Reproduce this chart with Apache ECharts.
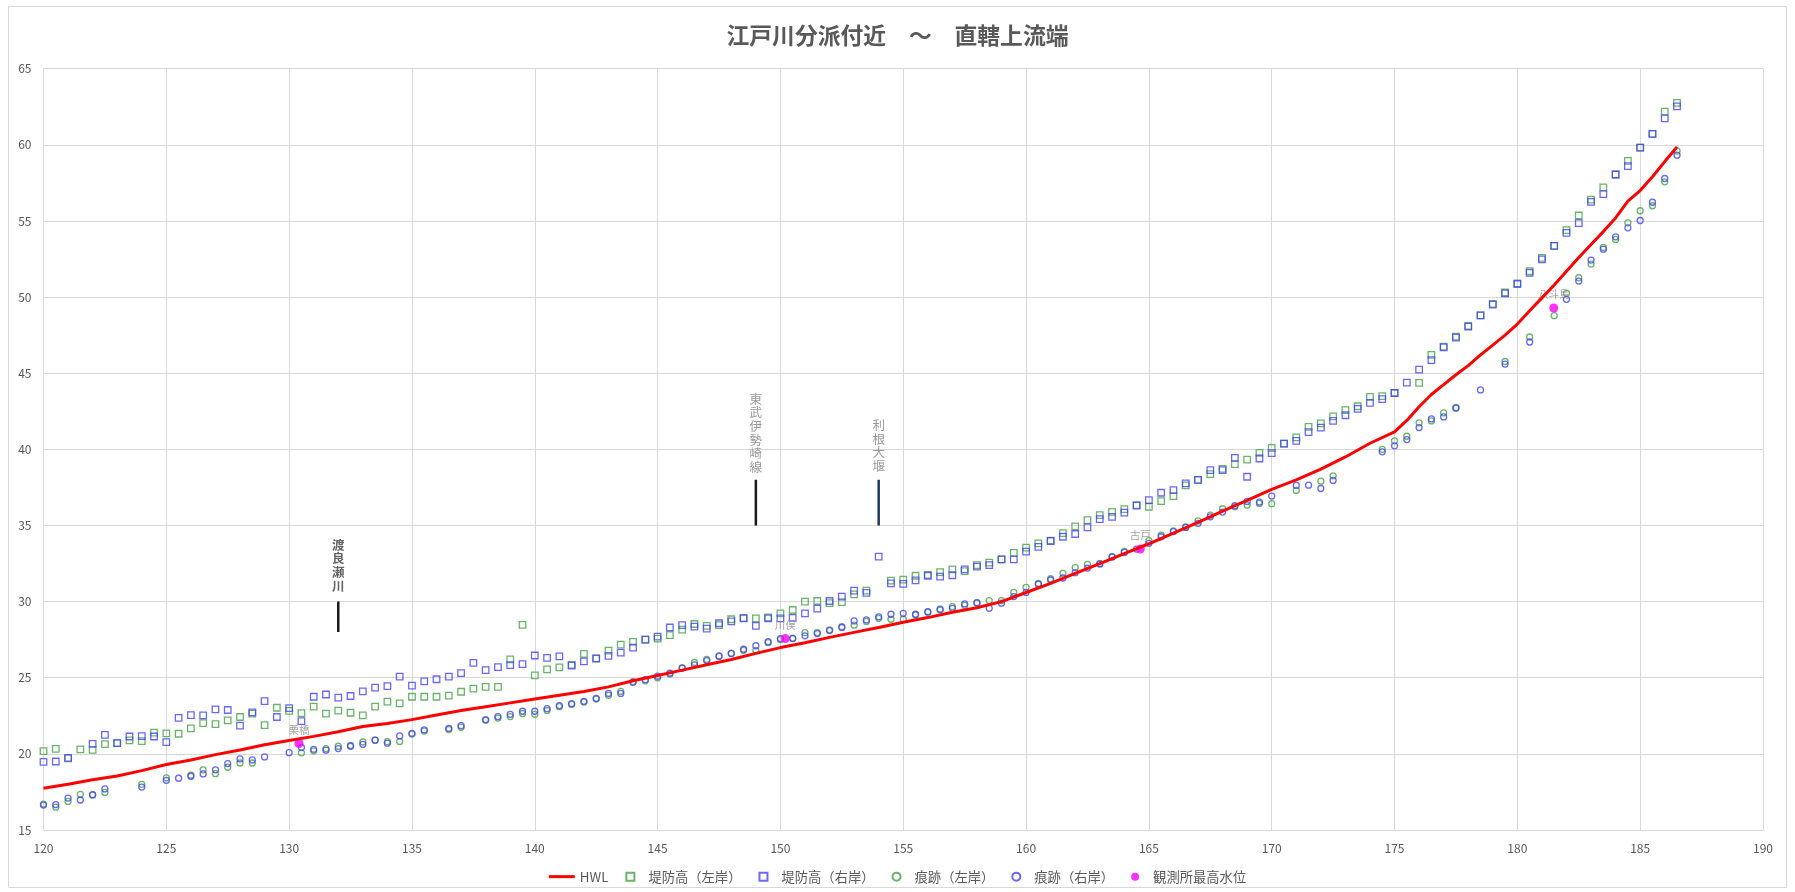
<!DOCTYPE html>
<html>
<head>
    <meta charset="utf-8"/>
    <title>江戸川分派付近 ～ 直轄上流端</title>
    <style>
        html, body { margin: 0; padding: 0; background: #fff; }
        #main { width: 1795px; height: 892px; }
    </style>
</head>
<body>
<div id="main"></div>
<script src="https://cdn.jsdelivr.net/npm/echarts@6/dist/echarts.min.js"></script>
<script>
    // 距離標 (km)  0.5km毎
    var km = [
        120, 120.5, 121, 121.5, 122, 122.5, 123, 123.5, 124, 124.5,
        125, 125.5, 126, 126.5, 127, 127.5, 128, 128.5, 129, 129.5,
        130, 130.5, 131, 131.5, 132, 132.5, 133, 133.5, 134, 134.5,
        135, 135.5, 136, 136.5, 137, 137.5, 138, 138.5, 139, 139.5,
        140, 140.5, 141, 141.5, 142, 142.5, 143, 143.5, 144, 144.5,
        145, 145.5, 146, 146.5, 147, 147.5, 148, 148.5, 149, 149.5,
        150, 150.5, 151, 151.5, 152, 152.5, 153, 153.5, 154, 154.5,
        155, 155.5, 156, 156.5, 157, 157.5, 158, 158.5, 159, 159.5,
        160, 160.5, 161, 161.5, 162, 162.5, 163, 163.5, 164, 164.5,
        165, 165.5, 166, 166.5, 167, 167.5, 168, 168.5, 169, 169.5,
        170, 170.5, 171, 171.5, 172, 172.5, 173, 173.5, 174, 174.5,
        175, 175.5, 176, 176.5, 177, 177.5, 178, 178.5, 179, 179.5,
        180, 180.5, 181, 181.5, 182, 182.5, 183, 183.5, 184, 184.5,
        185, 185.5, 186, 186.5
    ];

    // 堤防高(左岸)
    var dikeLeft = [
        20.18, 20.33, 19.7, 20.29, 20.26, 20.64, 20.7, 20.88, 20.84, 21.4,
        21.34, 21.32, 21.67, 22.02, 21.96, 22.2, 22.42, 22.64, 21.89, 23.03,
        22.82, 22.67, 23.1, 22.64, 22.84, 22.7, 22.53, 23.1, 23.43, 23.32,
        23.75, 23.75, 23.75, 23.82, 24.08, 24.28, 24.4, 24.4, 26.2, 28.47,
        25.15, 25.55, 25.68, 25.85, 26.57, 26.25, 26.78, 27.18, 27.36, 27.5,
        27.57, 27.8, 28.16, 28.53, 28.4, 28.45, 28.84, 28.93, 28.9, 28.97,
        29.23, 29.45, 30.0, 30.04, 29.9, 29.96, 30.48, 30.72, null, 31.38,
        31.44, 31.7, 31.75, 31.93, 32.12, 32.0, 32.4, 32.56, 32.78, 33.2,
        33.54, 33.83, 34.0, 34.5, 34.94, 35.35, 35.68, 35.9, 36.08, 36.34,
        36.23, 36.6, 36.93, 37.63, 38.0, 38.37, 38.72, 39.03, 39.33, 39.77,
        40.1, 40.38, 40.78, 41.47, 41.7, 42.17, 42.57, 42.83, 43.44, 43.5,
        43.7, null, 44.37, 46.2, 46.75, 47.4, 48.1, 48.8, 49.55, 50.3,
        50.9, 51.7, 52.58, 53.37, 54.4, 55.36, 56.4, 57.2, 58.05, 58.95,
        59.82, 60.72, 62.18, 62.75
    ];

    // 堤防高(右岸)
    var dikeRight = [
        19.47, 19.5, 19.74, null, 20.66, 21.25, 20.7, 21.14, 21.16, 21.14,
        20.77, 22.37, 22.55, 22.53, 22.92, 22.88, 21.85, 22.73, 23.47, 22.42,
        23.0, 22.15, 23.75, 23.9, 23.7, 23.8, 24.1, 24.35, 24.45, 25.07,
        24.48, 24.76, 24.9, 25.07, 25.3, 25.98, 25.5, 25.7, 25.83, 25.9,
        26.46, 26.3, 26.4, 25.8, 26.07, 26.27, 26.43, 26.65, 26.98, 27.5,
        27.7, 28.3, 28.45, 28.36, 28.23, 28.58, 28.7, 28.9, 28.4, 28.9,
        28.9, 28.93, 29.23, 29.54, 30.04, 30.33, 30.72, 30.57, 32.95, 31.2,
        31.16, 31.4, 31.7, 31.64, 31.73, 32.12, 32.3, 32.4, 32.78, 32.78,
        33.28, 33.6, 33.98, 34.26, 34.44, 34.87, 35.42, 35.57, 35.84, 36.3,
        36.67, 37.15, 37.32, 37.76, 38.0, 38.63, 38.63, 39.44, 38.2, 39.4,
        39.75, 40.38, 40.56, 41.13, 41.43, 41.87, 42.24, 42.66, 43.05, 43.3,
        43.7, 44.38, 45.24, 45.86, 46.7, 47.34, 48.06, 48.8, 49.5, 50.25,
        50.86, 51.6, 52.48, 53.37, 54.22, 54.86, 56.26, 56.76, 58.05, 58.6,
        59.82, 60.72, 61.74, 62.53
    ];

    // 痕跡(左岸)
    var traceLeft = [
        16.7, 16.5, 16.88, 17.34, 17.3, 17.47, null, null, 18.0, null,
        18.42, null, 18.6, 18.95, 18.7, 19.12, 19.4, 19.4, null, null,
        null, 20.07, 20.2, 20.35, 20.5, 20.55, 20.78, 20.9, 20.8, 20.82,
        21.3, 21.5, null, 21.6, 21.75, null, 22.2, 22.35, 22.45, 22.65,
        22.6, 22.85, 23.1, 23.25, 23.4, 23.6, 23.85, 24.1, 24.75, 24.8,
        25.0, 25.25, 25.67, 26.0, 26.2, 26.4, 26.6, 26.8, 26.8, 27.3,
        27.5, 27.6, 27.96, 27.96, 28.15, 28.35, 28.45, 28.7, 28.9, 28.84,
        28.84, 29.12, 29.3, 29.45, 29.67, 29.75, 29.9, 30.07, 30.07, 30.6,
        30.94, 31.2, 31.5, 31.86, 32.23, 32.45, 32.5, 32.95, 33.3, null,
        34.0, 34.37, 34.65, 34.9, 35.3, 35.68, 36.1, 36.23, 36.34, 36.45,
        36.43, null, 37.3, null, 37.91, 38.26, null, null, null, 40.0,
        40.56, 40.86, 41.74, 41.87, 42.4, 42.7, null, null, null, 45.77,
        null, 47.38, null, 48.78, 50.25, 51.27, 52.17, 53.26, 53.79, 54.88,
        55.67, 56.0, 57.57, 59.6
    ];

    // 痕跡(右岸)
    var traceRight = [
        16.64, 16.66, 17.1, 16.97, 17.32, 17.7, null, null, 17.82, null,
        18.26, 18.4, 18.53, 18.68, 18.95, 19.36, 19.67, 19.6, 19.8, null,
        20.08, 20.42, 20.3, 20.24, 20.35, 20.5, 20.63, 20.9, 20.7, 21.18,
        21.35, 21.57, null, 21.68, 21.85, null, 22.25, 22.45, 22.6, 22.8,
        22.8, 22.97, 23.17, 23.3, 23.45, 23.65, 23.97, 23.97, 24.7, 24.87,
        25.1, 25.3, 25.62, 25.85, 26.13, 26.43, 26.6, 26.87, 27.1, 27.37,
        27.57, 27.57, 27.75, 27.9, 28.1, 28.3, 28.73, 28.8, 29.0, 29.17,
        29.23, 29.17, 29.34, 29.5, 29.56, 29.85, 29.93, 29.56, 29.9, 30.33,
        30.6, 31.14, 31.42, 31.55, 31.9, 32.2, 32.47, 32.93, 33.23, 33.45,
        33.83, 34.26, 34.6, 34.87, 35.14, 35.57, 35.88, 36.3, 36.58, 36.54,
        36.93, null, 37.63, 37.65, 37.43, 37.96, null, null, null, 39.84,
        40.23, 40.64, 41.43, 42.0, 42.13, 42.74, null, 43.9, null, 45.6,
        null, 47.05, null, null, 49.85, 51.05, 52.43, 53.15, 53.96, 54.55,
        55.03, 56.23, 57.79, 59.32
    ];

    // HWL
    var hwlKm = [
        120, 121, 122, 123, 124, 125, 126, 127, 128, 129,
        130, 131, 132, 133, 134, 135, 136, 137, 138, 139,
        140, 141, 142, 143, 144, 145, 146, 147, 148, 149,
        150, 151, 152, 153, 154, 155, 156, 157, 158, 159,
        160, 161, 162, 163, 164, 165, 166, 167, 168, 169,
        170, 171, 172, 173, 174, 175, 175.5, 176, 176.5, 177,
        177.5, 178, 178.5, 179, 179.5, 180, 180.5, 181, 181.5, 182,
        182.5, 183, 183.5, 184, 184.5, 185, 185.5, 186, 186.5
    ];
    var hwlLevel = [
        17.74, 18.0, 18.3, 18.55, 18.9, 19.3, 19.6, 19.95, 20.25, 20.6,
        20.88, 21.15, 21.45, 21.8, 22.0, 22.25, 22.55, 22.85, 23.1, 23.35,
        23.6, 23.85, 24.1, 24.4, 24.8, 25.15, 25.5, 25.85, 26.2, 26.6,
        26.98, 27.3, 27.65, 27.98, 28.3, 28.64, 28.95, 29.3, 29.6, 30.0,
        30.6, 31.2, 31.85, 32.5, 33.15, 33.8, 34.5, 35.2, 35.95, 36.65,
        37.37, 38.0, 38.7, 39.5, 40.4, 41.15, 41.9, 42.8, 43.6, 44.25,
        44.9, 45.5, 46.2, 46.85, 47.5, 48.23, 49.1, 49.95, 50.8, 51.7,
        52.6, 53.45, 54.3, 55.2, 56.3, 57.0, 57.9, 58.9, 59.86
    ];

    // 観測所最高水位
    var stationName = ['栗橋', '川俣', '古戸', '八斗島'];
    var stationKm = [130.4, 150.2, 164.65, 181.48];
    var stationLevel = [20.68, 27.57, 33.45, 49.28];

    // 目印 (名称, km, 下端, 上端)
    var markName = ['渡良瀬川', '東武伊勢崎線', '利根大堰'];
    var markKm = [132, 149, 154];
    var markLow = [28, 35, 35];
    var markHigh = [30, 38, 38];

    var xTicks = [120, 190, 5];
    var yTicks = [15, 65, 5];

    function pairs(xs, ys) {
        var out = [];
        for (var i = 0; i < xs.length; i++) {
            out.push([xs[i], ys[i]]);
        }
        return out;
    }

    var font = '"Noto Sans CJK JP", "Noto Sans", sans-serif';
    var green = '#45a045';
    var blue = '#4444f4';

    // 凡例用アイコン
    var iconLine = 'path://M0,0 L26,0 L26,3 L0,3 Z';
    var iconSquare = 'path://M0,0 L10,0 L10,10 L0,10 Z';
    var iconCircle = 'path://M5,0 A5,5 0 1,1 4.99,0 Z';

    function scatter(name, sym, size, color, data) {
        return {
            name: name,
            type: 'scatter',
            symbol: sym,
            symbolSize: size,
            itemStyle: { color: 'rgba(0,0,0,0)', borderColor: color, borderWidth: 1.3 },
            data: pairs(km, data),
            silent: true
        };
    }

    var markStyle = [
        { lineColor: '#1a1a1a', textColor: '#3f3f3f', bold: 'bold', dist: 9 },
        { lineColor: '#1a1a1a', textColor: '#7f7f7f', bold: 'normal', dist: 6 },
        { lineColor: '#203864', textColor: '#7f7f7f', bold: 'normal', dist: 7 }
    ];

    var series = [
        {
            name: 'HWL',
            type: 'line',
            symbol: 'none',
            lineStyle: { color: '#ff0000', width: 3 },
            itemStyle: { color: '#ff0000' },
            data: pairs(hwlKm, hwlLevel),
            silent: true
        },
        scatter('堤防高（左岸）', 'rect', 6.5, green, dikeLeft),
        scatter('堤防高（右岸）', 'rect', 6.5, blue, dikeRight),
        scatter('痕跡（左岸）', 'circle', 6, green, traceLeft),
        scatter('痕跡（右岸）', 'circle', 6, blue, traceRight),
        {
            name: '観測所最高水位',
            type: 'scatter',
            symbol: 'circle',
            symbolSize: 9,
            itemStyle: { color: '#ff00ff' },
            data: stationKm.map(function (k, i) {
                return {
                    value: [k, stationLevel[i]],
                    label: {
                        show: true,
                        position: 'top',
                        distance: 4,
                        formatter: stationName[i],
                        color: '#8c8c8c',
                        fontSize: 10.5,
                        fontFamily: font
                    }
                };
            }),
            silent: true
        }
    ];

    for (let i = 0; i < markName.length; i++) {
        var st = markStyle[i];
        series.push({
            name: markName[i],
            type: 'line',
            symbol: 'none',
            lineStyle: { color: st.lineColor, width: 2.5 },
            data: [[markKm[i], markLow[i]], [markKm[i], markHigh[i]]],
            silent: true
        });
        // 縦書きラベル
        series.push({
            name: markName[i] + '_label',
            type: 'scatter',
            symbolSize: 0,
            data: [[markKm[i], markHigh[i]]],
            label: {
                show: true,
                position: 'top',
                distance: st.dist,
                formatter: markName[i].split('').join('\n'),
                color: st.textColor,
                fontWeight: st.bold,
                fontSize: 12.5,
                lineHeight: 13.6,
                fontFamily: font
            },
            silent: true
        });
    }

    var option = {
        animation: false,
        backgroundColor: '#ffffff',
        textStyle: { fontFamily: font },
        title: {
            text: '江戸川分派付近　～　直轄上流端',
            left: 'center',
            top: 19,
            textStyle: { fontSize: 22.8, fontWeight: 'bold', color: '#595959', fontFamily: font }
        },
        graphic: [{
            type: 'rect',
            shape: { x: 8.5, y: 6.5, width: 1778, height: 881 },
            style: { fill: null, stroke: '#d9d9d9', lineWidth: 1 },
            silent: true
        }],
        legend: {
            data: [
                { name: 'HWL', icon: iconLine },
                { name: '堤防高（左岸）', icon: iconSquare },
                { name: '堤防高（右岸）', icon: iconSquare },
                { name: '痕跡（左岸）', icon: iconCircle },
                { name: '痕跡（右岸）', icon: iconCircle },
                { name: '観測所最高水位', icon: 'circle' }
            ],
            left: 'center',
            top: 865,
            itemWidth: 26,
            itemHeight: 8,
            itemGap: 17,
            selectedMode: false,
            textStyle: { fontSize: 13.3, color: '#595959', fontFamily: font }
        },
        grid: {
            left: 43.5,
            right: 32,
            top: 68.7,
            bottom: 62
        },
        xAxis: {
            type: 'value',
            min: xTicks[0],
            max: xTicks[1],
            interval: xTicks[2],
            axisLine: { show: true, lineStyle: { color: '#d9d9d9' } },
            axisTick: { show: false },
            axisLabel: { color: '#595959', fontSize: 12, margin: 12 },
            splitLine: { show: true, lineStyle: { color: '#d9d9d9' } }
        },
        yAxis: {
            type: 'value',
            min: yTicks[0],
            max: yTicks[1],
            interval: yTicks[2],
            axisLine: { show: true, lineStyle: { color: '#d9d9d9' } },
            axisTick: { show: false },
            axisLabel: { color: '#595959', fontSize: 12, margin: 12 },
            splitLine: { show: true, lineStyle: { color: '#d9d9d9' } }
        },
        series: series
    };

    var myChart = echarts.init(document.getElementById('main'));
    myChart.setOption(option);
</script>
</body>
</html>
